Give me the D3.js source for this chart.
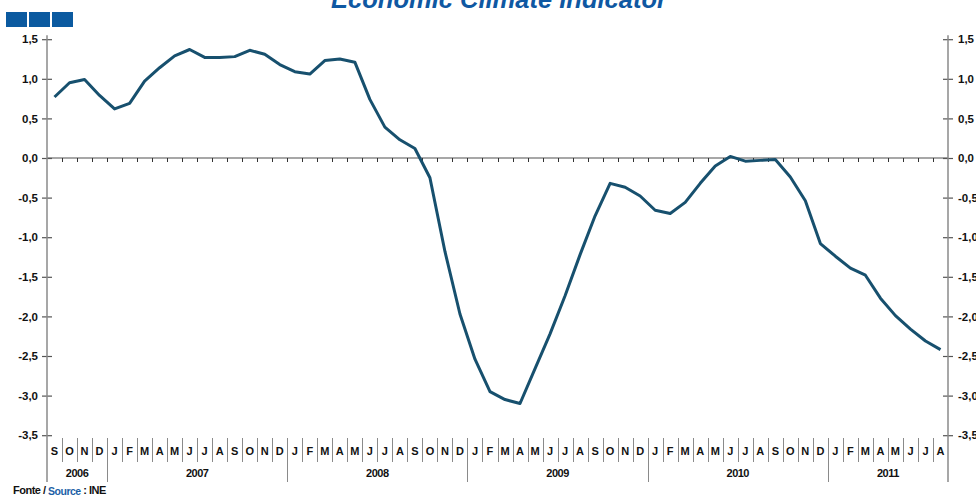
<!DOCTYPE html>
<html><head><meta charset="utf-8">
<script src="https://cdn.jsdelivr.net/npm/d3@7"></script>
<style>
html,body{margin:0;padding:0;background:#fff;overflow:hidden}
svg{display:block;font-family:"Liberation Sans",Arial,sans-serif}
</style></head>
<body>
<svg id="c" width="976" height="498"></svg>
<script>
const months = ["S","O","N","D",
 "J","F","M","A","M","J","J","A","S","O","N","D",
 "J","F","M","A","M","J","J","A","S","O","N","D",
 "J","F","M","A","M","J","J","A","S","O","N","D",
 "J","F","M","A","M","J","J","A","S","O","N","D",
 "J","F","M","A","M","J","J","A"];
const years = ["2006","2007","2008","2009","2010","2011"];
const yearSpans = [4,12,12,12,12,8];
const values = [0.77,0.95,0.99,0.79,0.62,0.69,0.97,1.14,1.29,1.37,1.27,1.27,1.28,1.36,1.31,1.18,
 1.09,1.06,1.23,1.25,1.21,0.74,0.39,0.23,0.12,-0.25,-1.18,-1.97,-2.54,-2.95,-3.05,-3.10,
 -2.66,-2.22,-1.74,-1.22,-0.73,-0.32,-0.37,-0.48,-0.66,-0.70,-0.56,-0.32,-0.10,0.02,-0.04,-0.03,
 -0.02,-0.24,-0.54,-1.08,-1.24,-1.39,-1.48,-1.77,-1.99,-2.16,-2.31,-2.42];
const yTicks = [1.5,1.0,0.5,0.0,-0.5,-1.0,-1.5,-2.0,-2.5,-3.0,-3.5];
const title = "Economic Climate Indicator";

const svg = d3.select("#c");
const L = 47, R = 948, T = 39.2, B = 435.2;
const x = d3.scaleBand().domain(d3.range(months.length)).range([L, R]).padding(0);
const y = d3.scaleLinear().domain([-3.5, 1.5]).range([B, T]);
const fmt = v => d3.format(".1f")(v).replace(".", ",").replace("−","-");
const grey = "#8a8a8a";

// title
svg.append("text").attr("x", 499).attr("y", 8).attr("text-anchor","middle")
  .attr("font-size", 25.5).attr("font-weight","bold").attr("font-style","italic")
  .attr("fill","#0f58a2").text(title);
// logo squares
[0,1,2].forEach(i => svg.append("rect").attr("x", 6 + i*23).attr("y", 12)
  .attr("width", 21).attr("height", 15).attr("fill", "#0b5aa0"));

// zero line with ticks
svg.append("line").attr("x1", L).attr("x2", R).attr("y1", y(0)).attr("y2", y(0))
  .attr("stroke", grey).attr("stroke-width", 1.5);
d3.range(1, months.length).forEach(i => {
  const xx = Math.round(x(i)) + 0.5;
  svg.append("line").attr("x1", xx).attr("x2", xx).attr("y1", y(0)).attr("y2", y(0) + 4)
    .attr("stroke", "#333").attr("stroke-width", 1);
});

// axes
function drawAxis(axisGen, xpos, anchor, dx) {
  const g = svg.append("g").attr("transform", `translate(${xpos},0)`)
    .call(axisGen.tickValues(yTicks).tickFormat(fmt).tickSize(5).tickPadding(0));
  g.select(".domain").remove();
  g.selectAll(".tick line").attr("x1", -5).attr("x2", 5).attr("stroke", "#555").attr("stroke-width", 1.2);
  g.selectAll(".tick text").attr("x", dx).attr("text-anchor", anchor)
    .attr("font-size", 11.5).attr("font-weight", "bold").attr("fill", "#111")
    .attr("font-family", "'Liberation Sans',Arial,sans-serif");
  g.append("line").attr("x1", 0).attr("x2", 0).attr("y1", T - 4).attr("y2", 482)
    .attr("stroke", grey).attr("stroke-width", 1.5);
}
drawAxis(d3.axisLeft(y), L, "end", -9);
drawAxis(d3.axisRight(y), R, "start", 10);

// month separators and labels
d3.range(1, months.length).forEach(i => {
  const xx = Math.round(x(i)) + 0.5;
  svg.append("line").attr("x1", xx).attr("x2", xx).attr("y1", 438).attr("y2", 462)
    .attr("stroke", grey).attr("stroke-width", 1);
});
months.forEach((m, i) => {
  svg.append("text").attr("x", x(i) + x.bandwidth()/2).attr("y", 455)
    .attr("text-anchor", "middle").attr("font-size", 11).attr("font-weight", "bold")
    .attr("fill", "#111").text(m);
});
// year separators and labels
let acc = 0;
years.forEach((yr, k) => {
  const start = acc, end = acc + yearSpans[k];
  const x0 = x(start), x1 = end < months.length ? x(end) : R;
  svg.append("text").attr("x", (x0 + x1) / 2).attr("y", 477)
    .attr("text-anchor", "middle").attr("font-size", 11).attr("font-weight", "bold")
    .attr("letter-spacing", -0.5).attr("fill", "#111").text(yr);
  if (end < months.length) {
    const xx = Math.round(x(end)) + 0.5;
    svg.append("line").attr("x1", xx).attr("x2", xx).attr("y1", 438).attr("y2", 482)
      .attr("stroke", grey).attr("stroke-width", 1);
  }
  acc = end;
});

// data line
const line = d3.line().x((d, i) => x(i) + x.bandwidth()/2).y(d => y(d));
svg.append("path").datum(values).attr("d", line).attr("fill", "none")
  .attr("stroke", "#17506e").attr("stroke-width", 3).attr("stroke-linejoin", "round");

// source
const src = svg.append("text").attr("x", 13).attr("y", 494).attr("font-size", 11)
  .attr("font-weight", "bold").attr("fill", "#111").attr("letter-spacing", -0.5);
src.append("tspan").text("Fonte / ");
src.append("tspan").attr("fill", "#1d5fa6").attr("font-size", 10.5).attr("dy", 1).text("Source");
src.append("tspan").attr("dy", -1).text(" : INE");
</script>
</body></html>
